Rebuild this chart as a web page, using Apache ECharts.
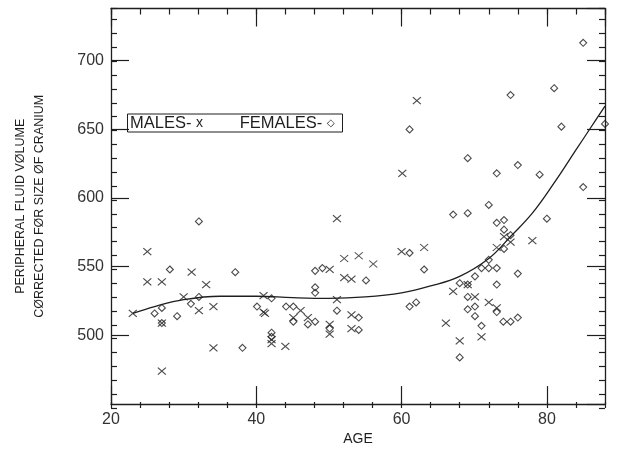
<!DOCTYPE html>
<html><head><meta charset="utf-8">
<script src="https://cdn.jsdelivr.net/npm/echarts@6/dist/echarts.min.js"></script>
<style>html,body{margin:0;padding:0;background:#fff}#c{width:617px;height:451px}</style>
</head><body><div id="c"></div>
<script>
// ---- data ----
const maleAge = [23.0,25.0,25.0,27.0,27.0,27.0,30.0,31.1,32.1,33.1,34.1,34.1,41.0,41.0,41.2,42.1,42.1,44.0,45.1,46.1,47.1,50.1,50.1,50.1,51.1,51.1,52.1,52.1,53.1,53.1,53.1,54.1,56.1,60.0,60.1,62.1,63.1,66.1,67.1,68.0,69.1,70.1,71.0,72.0,73.1,73.1,74.1,75.0,78.0];
const maleVol = [516,561,539,539,509,474,528,546,518,537,521,491,529,517,516,497,494,492,513,518,513,548,508,501,585,526,556,542,541,515,505,558,552,561,618,671,564,509,532,496,537,528,499,524,520,564,572,568,569];

const femaleAge = [26.0,27.0,27.0,28.1,29.1,31.0,32.1,32.1,37.1,38.1,40.1,42.1,42.1,42.1,44.1,45.1,45.1,47.1,48.1,48.1,48.1,48.1,49.1,50.1,51.1,54.1,54.1,55.1,61.1,61.1,61.1,62.0,63.1,67.1,68.0,68.0,69.1,69.1,69.1,69.1,69.1,70.1,70.1,70.1,71.0,71.0,72.0,72.0,72.0,73.1,73.1,73.1,73.1,73.1,74.1,74.1,74.1,74.0,75.0,75.0,75.0,76.0,76.0,76.0,79.0,80.0,81.0,82.0,85.0,85.0,88.0];
const femaleVol = [516,520,509,548,514,523,528,583,546,491,521,527,502,499,521,521,510,508,510,531,535,547,549,505,518,513,504,540,560,650,521,524,548,588,538,484,629,589,537,528,519,543,521,514,549,507,595,555,549,582,549,537,517,618,584,577,563,510,573,675,510,545,513,624,617,585,680,652,713,608,654];

const fitAge = [23,26,30,35,40,45,50,55,60,64,68,72,75,78,81,84,86,88];
const fitVol = [516,521,526,528.5,528.5,527.5,527,528,531,536,543,556,572,589,611,635,651,667];

// axis ranges and tick steps (labels every major step)
const X_MIN = 20, X_MAX = 88, X_MAJOR = 20, X_MINOR = 4;
const Y_MIN = 450, Y_MAX = 738, Y_MAJOR = 50, Y_MINOR = 10;

const INK = '#1e1e1e';

function pairs(a, b) { return a.map((v, i) => [v, b[i]]); }

function axis(kind, pos, gridIndex, step, len, labels, showLine, extra) {
  const isX = kind === 'x';
  return Object.assign({
    type: 'value', gridIndex: gridIndex, position: pos,
    min: isX ? X_MIN : Y_MIN, max: isX ? X_MAX : Y_MAX,
    interval: step,
    splitLine: { show: false },
    axisLine: { show: showLine, onZero: false, lineStyle: { color: INK, width: 1.3 } },
    axisTick: { show: true, inside: true, length: len,
                lineStyle: { color: INK, width: 1.2 } },
    axisLabel: labels ? { show: true, margin: 7, showMinLabel: isX, showMaxLabel: false,
                          fontSize: 16, color: '#333' }
                      : { show: false }
  }, extra || {});
}

const g = { left: 111, right: 12, top: 8.5, bottom: 43 };

const chart = echarts.init(document.getElementById('c'));
chart.setOption({
  animation: false,
  title: {
    text: '{t|MALES- }{s|x}{t|        FEMALES- }{d|◇}',
    left: 127, top: 112.5,
    borderColor: INK, borderWidth: 1,
    padding: [1, 8, 1, 3],
    textStyle: {
      rich: {
        t: { fontSize: 16.5, color: INK, fontWeight: 'normal', lineHeight: 19 },
        s: { fontSize: 14, color: INK, fontWeight: 'normal', lineHeight: 19 },
        d: { fontSize: 10, color: INK, fontWeight: 'normal', lineHeight: 19 }
      }
    }
  },
  grid: [Object.assign({}, g), Object.assign({}, g)],
  xAxis: [
    axis('x', 'bottom', 0, X_MAJOR, 18, true, true,
         { name: 'AGE', nameLocation: 'middle', nameGap: 26,
           nameTextStyle: { fontSize: 14, color: INK } }),
    axis('x', 'top', 0, X_MAJOR, 18, false, true),
    axis('x', 'bottom', 1, X_MINOR, 6, false, false),
    axis('x', 'top', 1, X_MINOR, 6, false, false)
  ],
  yAxis: [
    axis('y', 'left', 0, Y_MAJOR, 18, true, true,
         { name: 'PERIPHERAL FLUID VØLUME\nCØRRECTED FØR SIZE ØF CRANIUM',
           nameLocation: 'middle', nameRotate: 90, nameGap: 62,
           nameTextStyle: { fontSize: 12.5, color: INK, lineHeight: 19, align: 'center' } }),
    axis('y', 'right', 0, Y_MAJOR, 18, false, true),
    axis('y', 'left', 1, Y_MINOR, 6, false, false),
    axis('y', 'right', 1, Y_MINOR, 6, false, false)
  ],
  series: [
    {
      type: 'scatter', name: 'MALES-', xAxisIndex: 0, yAxisIndex: 0,
      data: pairs(maleAge, maleVol),
      symbol: 'path://M0,0L10,10M10,0L0,10', symbolSize: [8, 7],
      itemStyle: { color: 'none', borderColor: INK, borderWidth: 1.1 }
    },
    {
      type: 'scatter', name: 'FEMALES-', xAxisIndex: 0, yAxisIndex: 0,
      data: pairs(femaleAge, femaleVol),
      symbol: 'diamond', symbolSize: [7, 7],
      itemStyle: { color: 'rgba(255,255,255,0)', borderColor: INK, borderWidth: 1.1 }
    },
    {
      type: 'line', name: 'fit', xAxisIndex: 0, yAxisIndex: 0,
      data: pairs(fitAge, fitVol),
      smooth: 0.4, showSymbol: false, symbol: 'none',
      lineStyle: { color: INK, width: 1.3 }
    }
  ]
});
</script></body></html>
